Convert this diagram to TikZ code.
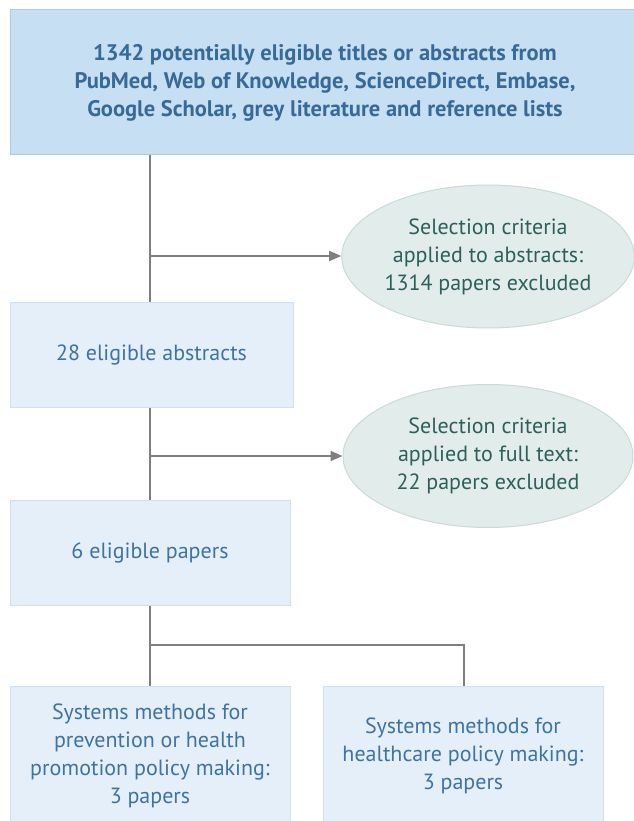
\documentclass[tikz,border=0pt]{standalone}
\usepackage{fontspec}
\setmainfont{PT Sans}
\usetikzlibrary{shapes.geometric,arrows.meta}
\definecolor{topfill}{HTML}{C6DFF3}
\definecolor{topdraw}{HTML}{A9CBE6}
\definecolor{boxfill}{HTML}{E4EFFA}
\definecolor{boxdraw}{HTML}{CFE0F0}
\definecolor{elfill}{HTML}{E2EDEB}
\definecolor{eldraw}{HTML}{C9DAD8}
\definecolor{bluetxt}{HTML}{3F73A3}
\definecolor{toptxt}{HTML}{386A98}
\definecolor{greentxt}{HTML}{2D5F5B}
\definecolor{linegray}{HTML}{7F7F7F}
\begin{document}
\begin{tikzpicture}[x=1pt,y=-1pt,
  boxnode/.style={draw=boxdraw,fill=boxfill,line width=1pt,text=bluetxt,align=center,
    inner sep=0pt,font=\fontsize{22}{28}\selectfont},
  topnode/.style={draw=topdraw,fill=topfill,line width=1pt,text=toptxt,align=center,
    inner sep=0pt,font=\fontsize{22.5}{28}\selectfont\bfseries},
  elnode/.style={ellipse,draw=eldraw,fill=elfill,line width=1pt,text=greentxt,align=center,
    inner sep=0pt,minimum width=290pt,minimum height=143pt,font=\fontsize{22}{28}\selectfont},
  conn/.style={draw=linegray,line width=1.8pt},
  arr/.style={conn,-{Triangle[length=12pt,width=10pt]}}]
\useasboundingbox (0,0) rectangle (633,821);
\fill[white] (0,0) rectangle (633,821);
% top box
\node[topnode,minimum width=630pt,minimum height=145pt] (top) at (325,82.5)
  {1342 potentially eligible titles or abstracts from\\
   PubMed, Web of Knowledge, ScienceDirect, Embase,\\
   Google Scholar, grey literature and reference lists};
\node[boxnode,minimum width=283pt,minimum height=105pt] (abs) at (151.5,354.5) {28 eligible abstracts};
\node[boxnode,minimum width=280pt,minimum height=105pt] (pap) at (150,552.5) {6 eligible papers};
\node[boxnode,minimum width=280pt,minimum height=140pt] (prev) at (150,756)
  {Systems methods for\\ prevention or health\\ promotion policy making:\\ 3 papers};
\node[boxnode,minimum width=280pt,minimum height=140pt] (hc) at (463,756)
  {Systems methods for\\ healthcare policy making:\\ 3 papers};
\node[elnode] (e1) at (488,256.5) {Selection criteria\\ applied to abstracts:\\ 1314 papers excluded};
\node[elnode] (e2) at (488,456) {Selection criteria\\ applied to full text:\\ 22 papers excluded};
% connectors
\coordinate (j1) at (150,256);
\coordinate (j2) at (150,456);
\coordinate (j3) at (150,645);
\coordinate (j4) at (464,645);
\draw[conn] (top.south -| j1) -- (abs.north -| j1);
\draw[arr] (j1) -- (e1.west |- j1);
\draw[conn] (abs.south -| j2) -- (pap.north -| j2);
\draw[arr] (j2) -- (e2.west |- j2);
\draw[conn] (pap.south -| j3) -- (prev.north -| j3);
\draw[conn] (j3) -- (j4) -- (hc.north -| j4);
\end{tikzpicture}
\end{document}
